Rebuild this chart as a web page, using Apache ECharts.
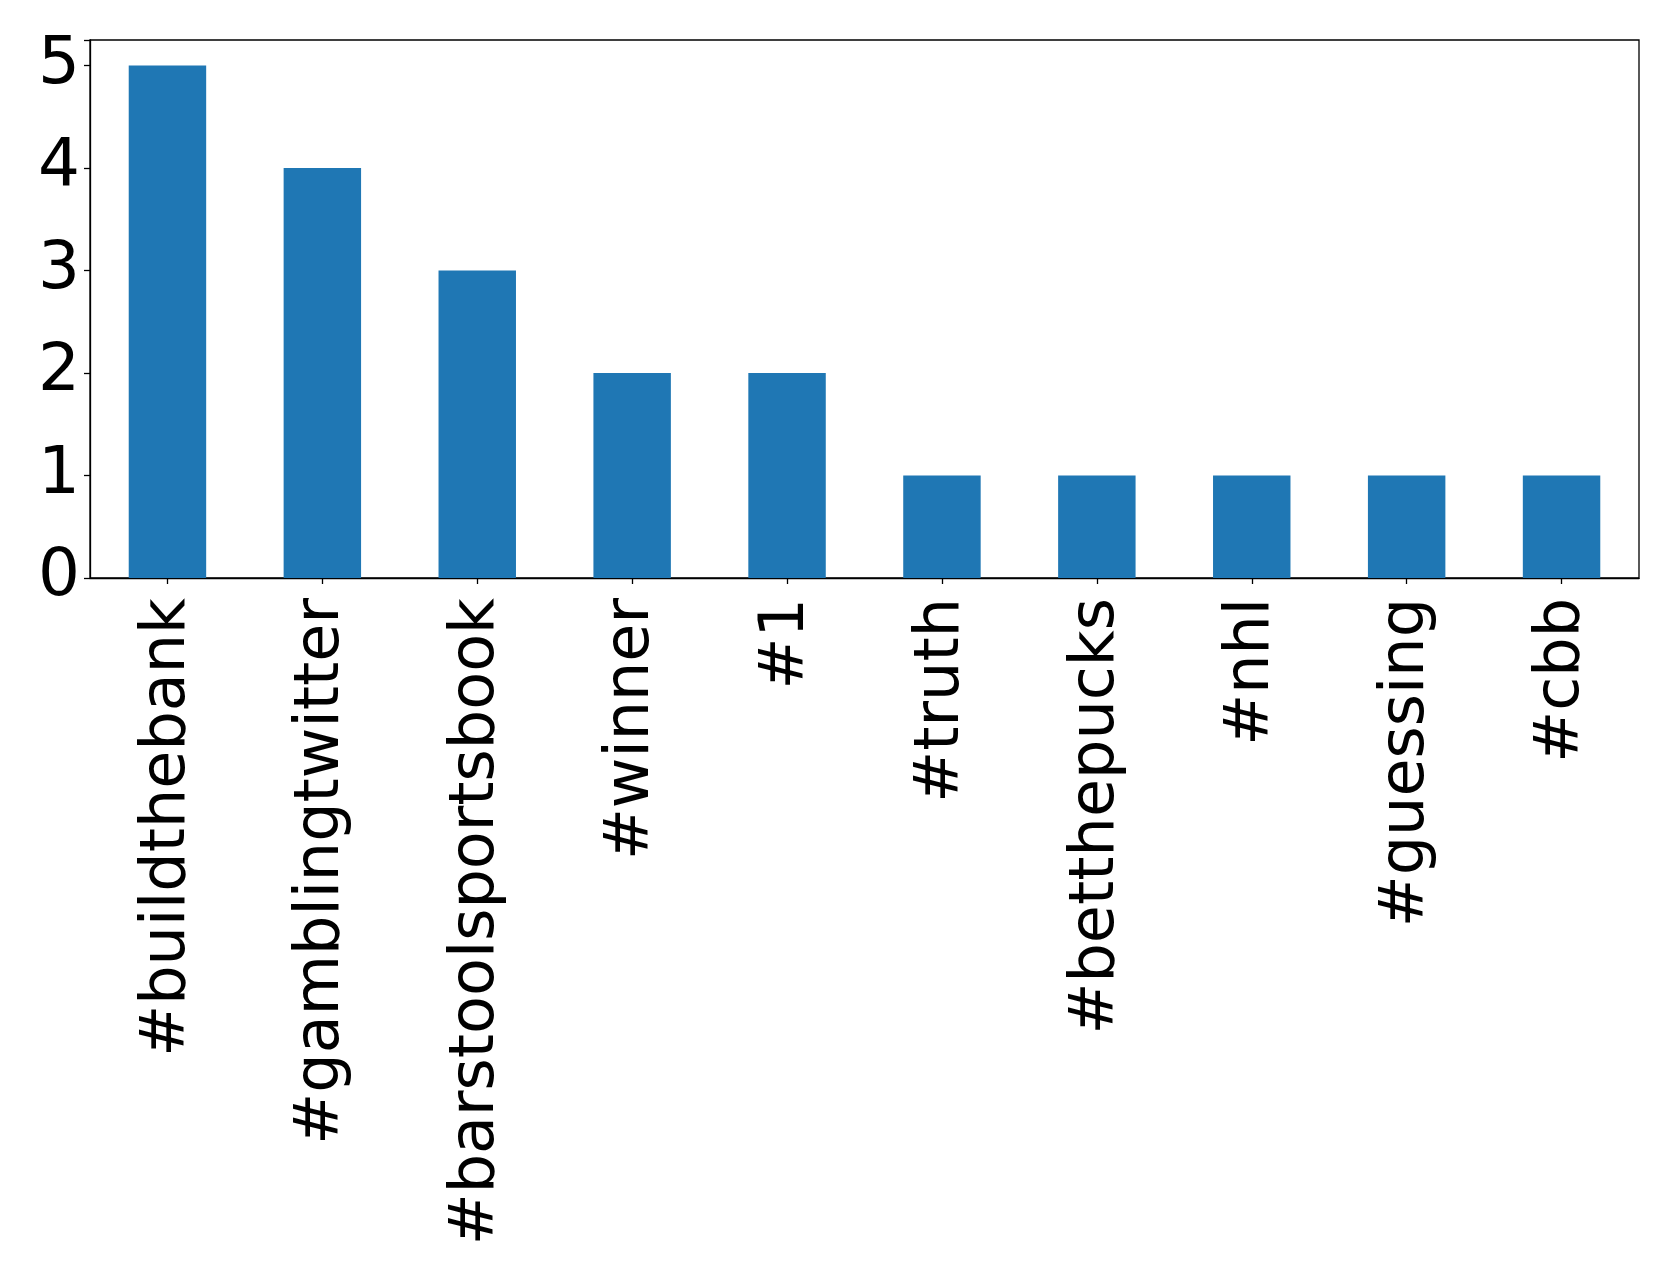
<!DOCTYPE html>
<html>
<head>
<meta charset="utf-8">
<script src="https://cdn.jsdelivr.net/npm/echarts@6/dist/echarts.min.js"></script>
<style>
html,body{margin:0;padding:0;background:#fff;}
#main{width:1679px;height:1280px;}
</style>
</head>
<body>
<div id="main"></div>
<script>
const categories = ['#buildthebank','#gamblingtwitter','#barstoolsportsbook','#winner','#1','#truth','#betthepucks','#nhl','#guessing','#cbb'];
const counts = [5,4,3,2,2,1,1,1,1,1];
const yTicks = [0,1,2,3,4,5];

const chart = echarts.init(document.getElementById('main'), null, {renderer:'canvas'});
chart.setOption({
  animation:false,
  backgroundColor:'#ffffff',
  grid:{left:90,right:40,top:40,bottom:702,containLabel:false,
        show:true,borderColor:'#000',borderWidth:1.3,backgroundColor:'transparent'},
  xAxis:{
    type:'category',
    data:categories,
    boundaryGap:true,
    axisLine:{show:true,lineStyle:{color:'#000',width:1.3}},
    axisTick:{show:true,alignWithLabel:true,length:6,lineStyle:{color:'#000',width:1.3}},
    axisLabel:{rotate:90,interval:0,margin:20,padding:[9,0,0,0],color:'#000',fontSize:62,fontFamily:'DejaVu Sans'}
  },
  yAxis:{
    type:'value',
    min:0,max:5.25,interval:1,
    splitLine:{show:false},
    axisLine:{show:true,lineStyle:{color:'#000',width:1.3}},
    axisTick:{show:true,length:6,lineStyle:{color:'#000',width:1.3}},
    axisLabel:{color:'#000',fontSize:66,fontFamily:'DejaVu Sans',margin:10,padding:[9,0,0,0],
      formatter:function(v){return yTicks.indexOf(v)>=0?String(v):'';}}
  },
  series:[{
    type:'bar',
    data:counts,
    barWidth:'50%',
    itemStyle:{color:'#1f77b4'}
  }]
});
</script>
</body>
</html>
